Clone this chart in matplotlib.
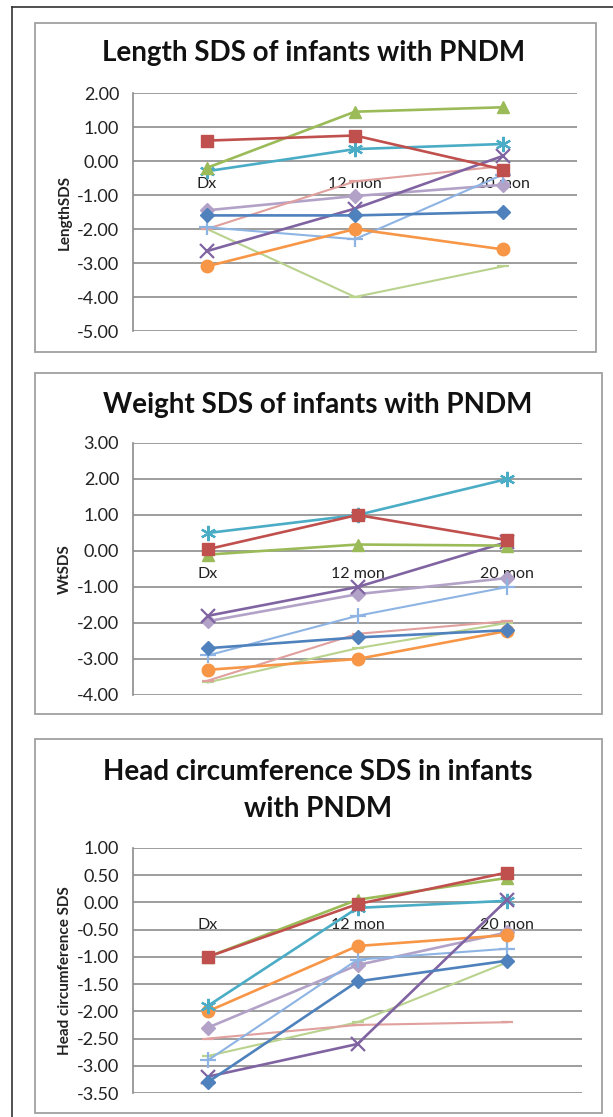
import matplotlib
matplotlib.use("Agg")
import matplotlib.pyplot as plt
from matplotlib.patches import Rectangle
from matplotlib.lines import Line2D
import numpy as np

plt.rcParams['font.family'] = ['Lato', 'DejaVu Sans']

W, H = 613, 1117

categories = ["Dx", "12 mon", "20 mon"]

# one row per infant, columns = Dx, 12 mon, 20 mon
length_sds = [
    [-1.6, -1.6, -1.5],
    [0.6, 0.75, -0.25],
    [-0.2, 1.45, 1.58],
    [-2.65, -1.4, 0.15],
    [-0.3, 0.35, 0.5],
    [-3.1, -2.0, -2.6],
    [-1.95, -2.3, -0.4],
    [-2.0, -0.6, -0.15],
    [-2.0, -4.0, -3.1],
    [-1.45, -1.03, -0.7],
]
weight_sds = [
    [-2.7, -2.4, -2.2],
    [0.05, 1.0, 0.3],
    [-0.1, 0.18, 0.15],
    [-1.8, -1.0, 0.25],
    [0.5, 1.0, 2.0],
    [-3.3, -3.0, -2.22],
    [-2.9, -1.8, -1.0],
    [-3.6, -2.3, -1.95],
    [-3.65, -2.7, -2.0],
    [-1.95, -1.2, -0.75],
]
head_sds = [
    [-3.3, -1.45, -1.07],
    [-1.0, -0.03, 0.55],
    [-1.0, 0.05, 0.45],
    [-3.2, -2.6, 0.05],
    [-1.9, -0.1, 0.03],
    [-2.0, -0.8, -0.6],
    [-2.9, -1.05, -0.85],
    [-2.5, -2.25, -2.2],
    [-2.82, -2.2, -1.1],
    [-2.3, -1.15, -0.55],
]

colors = ['#4F81BD', '#C0504D', '#9BBB59', '#8064A2', '#4BACC6',
          '#F79646', '#8EB4E3', '#E0A09E', '#B9D38F', '#B3A2C7']
markers = ['D', 's', '^', 'x', (6, 2, 0), 'o', '+', '_', '_', 'D']
msizes = [7, 9, 9, 10, 11, 9, 12, 8, 8, 7]
lwidths = [1.9, 1.9, 1.9, 1.9, 1.9, 1.9, 1.5, 1.5, 1.5, 1.9]

fig = plt.figure(figsize=(W / 100, H / 100), dpi=100)


def fx(px):
    return px / W


def fy(py):
    return 1 - py / H


# outer frame (left and top)
fig.add_artist(Line2D([fx(12), fx(12)], [fy(7), 0], color='#333333', lw=1.2))
fig.add_artist(Line2D([fx(12), 1], [fy(7), fy(7)], color='#333333', lw=1.2))

panels = [
    dict(data=length_sds, box=(35, 23, 596, 352), area=(133, 93, 577, 331),
         ylim=(-5, 2), ticks=np.arange(-5, 2.01, 1), ylabel="LengthSDS",
         title=["Length SDS of infants with PNDM"], ty=[53], tx=314),
    dict(data=weight_sds, box=(35, 373, 602, 714), area=(133, 443, 582, 695),
         ylim=(-4, 3), ticks=np.arange(-4, 3.01, 1), ylabel="WtSDS",
         title=["Weight SDS of infants with PNDM"], ty=[405], tx=318),
    dict(data=head_sds, box=(35, 739, 602, 1113), area=(133, 848, 582, 1093),
         ylim=(-3.5, 1), ticks=np.arange(-3.5, 1.01, 0.5),
         ylabel="Head circumference SDS",
         title=["Head circumference SDS in infants", "with PNDM"],
         ty=[772, 809], tx=318),
]

for p in panels:
    x0, y0, x1, y1 = p['box']
    fig.add_artist(Rectangle((fx(x0), fy(y1)), fx(x1 - x0), (y1 - y0) / H,
                             transform=fig.transFigure, fill=False,
                             edgecolor='#A0A0A0', lw=1.3))
    for t, yy in zip(p['title'], p['ty']):
        fig.text(fx(p['tx']), fy(yy), t, ha='center', va='center',
                 fontsize=20, fontweight='bold', color='#111111')

    a0, b0, a1, b1 = p['area']
    ax = fig.add_axes([fx(a0), fy(b1), fx(a1 - a0), (b1 - b0) / H])
    xs = np.arange(len(categories))
    for i, row in enumerate(p['data']):
        thin = markers[i] in ('x', '+', '_') or isinstance(markers[i], tuple)
        ax.plot(xs, row, color=colors[i], lw=lwidths[i], marker=markers[i],
                markersize=msizes[i], markeredgewidth=1.6 if thin else 1,
                markerfacecolor=colors[i], markeredgecolor=colors[i],
                zorder=3 + (10 - i) * 0.01, clip_on=False)

    ax.set_xlim(-0.5, 2.5)
    ax.set_ylim(*p['ylim'])
    ax.set_yticks(p['ticks'])
    ax.set_yticklabels(["%.2f" % v for v in p['ticks']])
    ax.set_xticks([])
    ax.grid(axis='y', color='#8C8C8C', lw=1.2)
    ax.set_axisbelow(True)
    for s in ['top', 'right', 'bottom']:
        ax.spines[s].set_visible(False)
    ax.spines['left'].set_color('#8C8C8C')
    ax.spines['left'].set_linewidth(1.2)
    ax.tick_params(axis='y', length=0, pad=10, labelsize=13, labelcolor='#222222')

    for i, c in enumerate(categories):
        ax.annotate(c, xy=(i, 0), xytext=(0, -16.5), textcoords='offset points',
                    ha='center', va='center', fontsize=11.5, color='#222222',
                    zorder=2)

    fig.text(fx(65), fy((b0 + b1) / 2), p['ylabel'], rotation=90,
             ha='center', va='center', fontsize=11, fontweight='bold',
             color='#222222')

fig.savefig("out.png", dpi=100)
